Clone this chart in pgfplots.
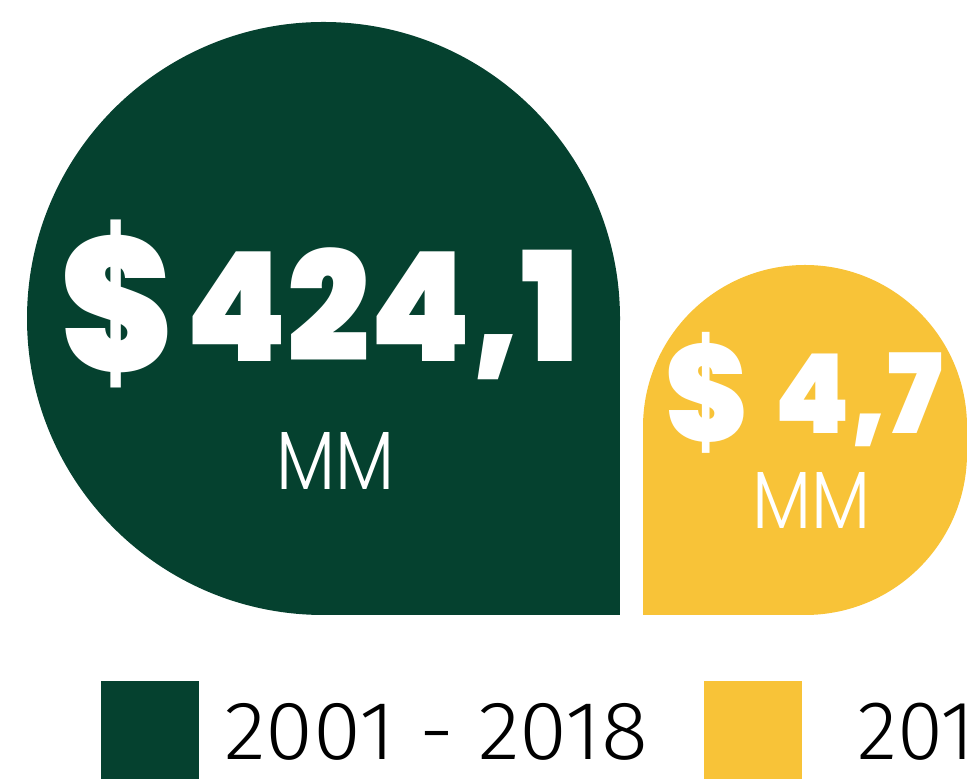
\documentclass[border=0pt]{standalone}
\usepackage{pgfplots}
\pgfplotsset{compat=1.18}
\usepackage{fontspec}
\setmainfont{Poppins}
\newfontfamily\heavy{Poppins Black}
\newfontfamily\thin{Poppins Light}
\newfontfamily\legfont{Fira Sans Light}
\definecolor{dgreen}{HTML}{05412F}
\definecolor{gold}{HTML}{F8C338}

\begin{document}
\begin{tikzpicture}
\useasboundingbox (0,0) rectangle (483.5pt,390pt);
\clip (0,0) rectangle (483.5pt,390pt);
\begin{axis}[
    at={(0,0)}, anchor=south west,
    scale only axis,
    width=483.5pt, height=390pt,
    xmin=0, xmax=967,
    ymin=-165, ymax=615,
    hide axis,
    ybar,
    legend columns=2,
    legend cell align=left,
    legend style={
        at={(axis cs:101,-66)}, anchor=north west,
        draw=none, fill=none, inner sep=0pt, outer sep=0pt,
        cells={anchor=base west, inner sep=0pt},
        /tikz/column 1/.style={column sep=10.5pt},
        /tikz/column 2/.style={column sep=26pt},
        /tikz/column 3/.style={column sep=25.5pt},
    },
    legend image code/.code={\fill[#1, sharp corners] (0pt,-9.5pt) rectangle (49pt,39.5pt);},
]
% 2001 - 2018 : $424,1 MM (square bottom-right corner)
\addplot[fill=dgreen, draw=none, bar width=593, bar shift=0pt,
    rounded corners=148.25pt] coordinates {(323.5,593)};
\addlegendentry{\resizebox*{212pt}{28.5pt}{\legfont 2001 - 2018}}
\addplot[fill=dgreen, draw=none, bar width=296.5, bar shift=0pt,
    forget plot] coordinates {(471.75,296.5)};
% 2019 : $4,7 MM (square bottom-left corner)
\addplot[fill=gold, draw=none, bar width=324, bar shift=0pt,
    rounded corners=81pt] coordinates {(805,350)};
\addlegendentry{\resizebox*{!}{29pt}{\legfont 2019 - 2020}}
\addplot[fill=gold, draw=none, bar width=162, bar shift=0pt,
    forget plot] coordinates {(724,162)};

\node[anchor=north west, inner sep=0pt, text=white] at (axis cs:60,395)
    {\resizebox*{56pt}{84pt}{\heavy\$}};
\node[anchor=north west, inner sep=0pt, text=white] at (axis cs:185,368)
    {\resizebox*{197pt}{66pt}{\heavy 424,1}};
\node[anchor=north west, inner sep=0pt, text=white] at (axis cs:276,183)
    {\resizebox*{59pt}{28.5pt}{\thin MM}};

\node[anchor=north west, inner sep=0pt, text=white] at (axis cs:665,283)
    {\resizebox*{41pt}{60.5pt}{\heavy\$}};
\node[anchor=north west, inner sep=0pt, text=white] at (axis cs:774,263)
    {\resizebox*{84pt}{47pt}{\heavy 4,7}};
\node[anchor=north west, inner sep=0pt, text=white] at (axis cs:752,143)
    {\resizebox*{59pt}{28pt}{\thin MM}};
\end{axis}
\end{tikzpicture}
\end{document}
